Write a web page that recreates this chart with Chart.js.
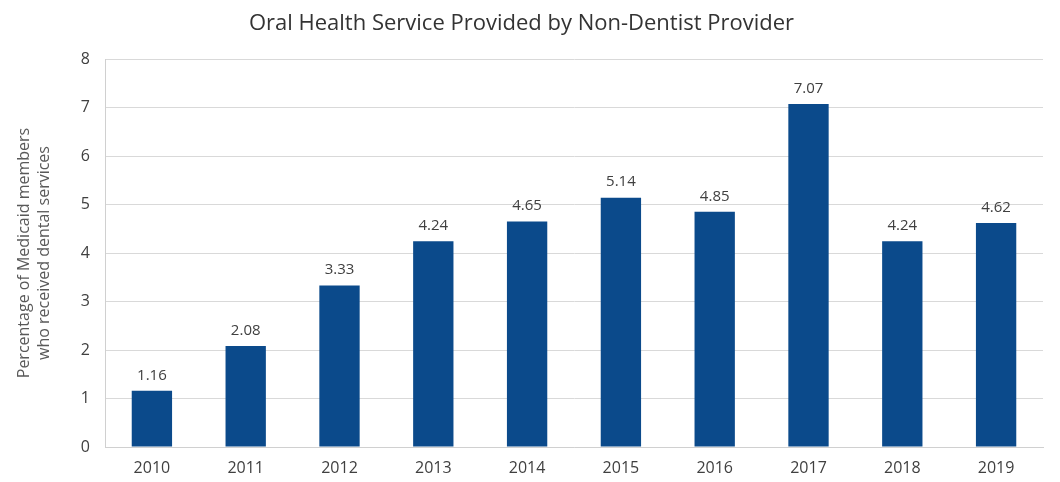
<!DOCTYPE html>
<html>
<head>
<meta charset="utf-8">
<script src="https://cdn.jsdelivr.net/npm/chart.js@4/dist/chart.umd.min.js"></script>
<style>
  html, body { margin: 0; padding: 0; background: #fff; }
  #wrap { width: 1060px; height: 482px; position: relative; }
</style>
</head>
<body>
<div id="wrap"><canvas id="chart"></canvas></div>
<script>
const years = ["2010", "2011", "2012", "2013", "2014", "2015", "2016", "2017", "2018", "2019"];
const percentages = [1.16, 2.08, 3.33, 4.24, 4.65, 5.14, 4.85, 7.07, 4.24, 4.62];
const chartTitle = "Oral Health Service Provided by Non-Dentist Provider";
const yTitle = ["Percentage of Medicaid members", "who received dental services"];

// labels above bars, no datalabels plugin available
const barLabels = {
  id: "barLabels",
  afterDatasetsDraw(chart) {
    const ctx = chart.ctx;
    const meta = chart.getDatasetMeta(0);
    ctx.save();
    ctx.font = "15px 'Open Sans'";
    ctx.fillStyle = "#404040";
    ctx.textAlign = "center";
    ctx.textBaseline = "bottom";
    meta.data.forEach((bar, i) => {
      ctx.fillText(percentages[i].toFixed(2), bar.x, bar.y - 8);
    });
    ctx.restore();
  },
};

Chart.defaults.font.family = "'Open Sans', sans-serif";
Chart.defaults.color = "#404040";

new Chart(document.getElementById("chart"), {
  type: "bar",
  data: {
    labels: years,
    datasets: [
      {
        data: percentages,
        backgroundColor: "#0b4a8b",
        barPercentage: 0.43,
        categoryPercentage: 1,
      },
    ],
  },
  options: {
    responsive: true,
    maintainAspectRatio: false,
    animation: false,
    layout: { padding: { top: 0, right: 17, left: 0, bottom: 0 } },
    plugins: {
      legend: { display: false },
      tooltip: { enabled: false },
      title: {
        display: true,
        text: chartTitle,
        color: "#333",
        font: { size: 22, weight: "normal", lineHeight: 1.2 },
        padding: { top: 11, bottom: 21.6 },
      },
    },
    scales: {
      x: {
        grid: { display: false },
        border: { color: "#d0d0d0" },
        ticks: { font: { size: 16 }, padding: 4 },
        afterFit(scale) {
          scale.height = 35;
        },
      },
      y: {
        min: 0,
        max: 8,
        ticks: { stepSize: 1, font: { size: 16 }, padding: 15 },
        grid: { color: "#d9d9d9", drawTicks: false },
        border: { color: "#d0d0d0" },
        title: {
          display: true,
          text: yTitle,
          font: { size: 16, lineHeight: 1.25 },
          color: "#595959",
          padding: { top: 14 },
        },
        afterFit(scale) {
          scale.width = 105;
        },
      },
    },
  },
  plugins: [barLabels],
});
</script>
</body>
</html>
